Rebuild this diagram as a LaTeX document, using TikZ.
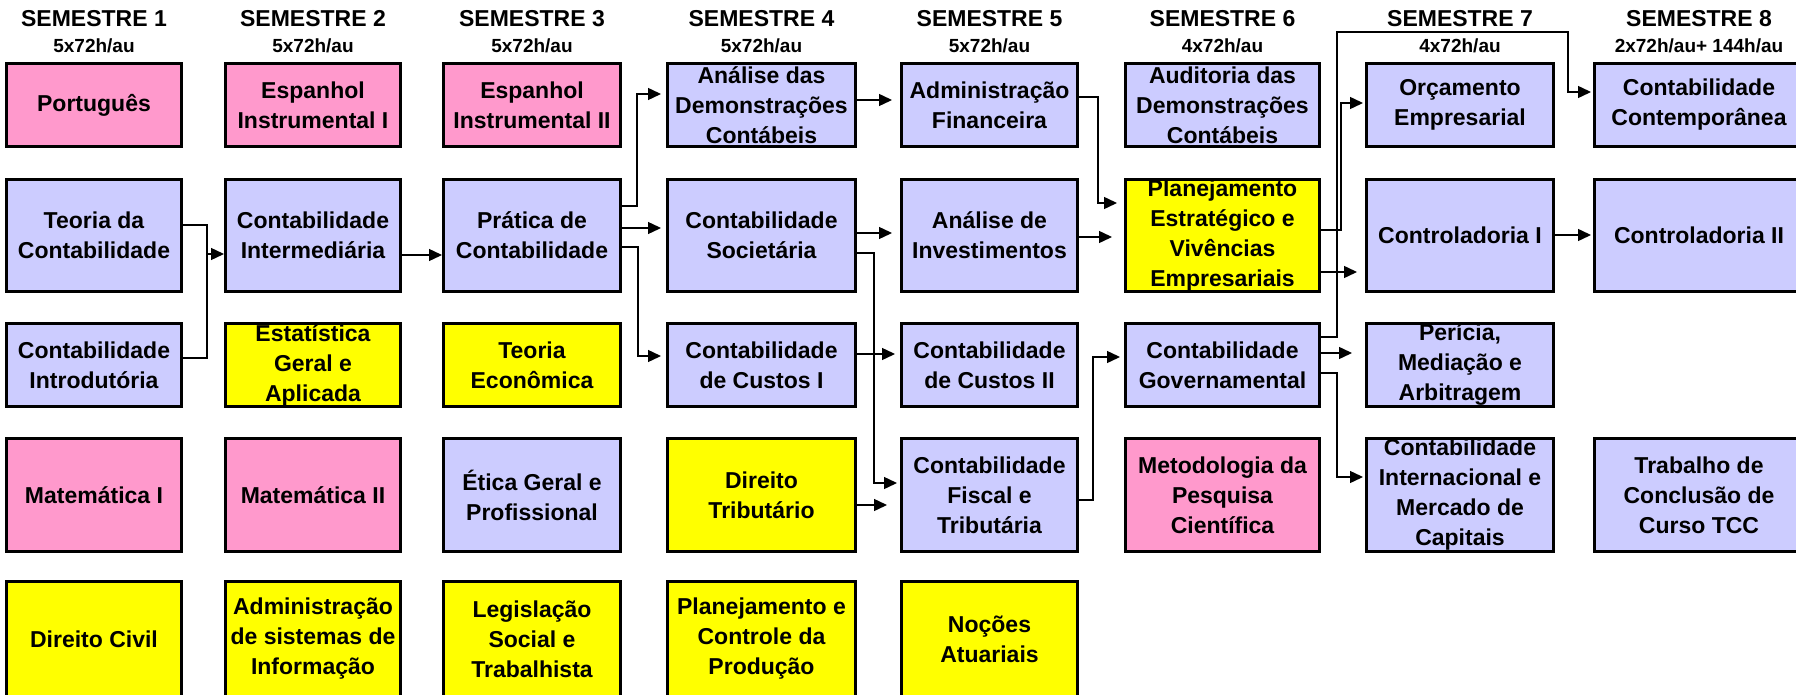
\documentclass[tikz,border=0pt]{standalone}
\usepackage{fontspec}
\setmainfont{Liberation Sans}
\usetikzlibrary{arrows.meta}
\definecolor{rosa}{HTML}{FF99CC}
\definecolor{lilas}{HTML}{CCCCFF}
\definecolor{amarelo}{HTML}{FFFF00}
\tikzset{
  materia/.style={draw, line width=3pt, inner sep=0pt, align=center, text=black,
    font=\fontsize{23}{30}\selectfont\bfseries},
  col1/.style={minimum width=175pt}, col2/.style={minimum width=175pt},
  col3/.style={minimum width=177pt}, col4/.style={minimum width=188pt},
  col5/.style={minimum width=176pt}, col6/.style={minimum width=194pt},
  col7/.style={minimum width=187pt}, col8/.style={minimum width=209pt},
  lin1/.style={minimum height=83pt}, lin2/.style={minimum height=112pt},
  lin3/.style={minimum height=83pt}, lin4/.style={minimum height=113pt},
  lin5/.style={minimum height=115pt},
  titulo/.style={anchor=base, font=\fontsize{23}{28}\selectfont\bfseries},
  carga/.style={anchor=base, font=\fontsize{19}{23}\selectfont\bfseries},
  fio/.style={line width=1.4pt},
  seta/.style={line width=1.4pt, -{Triangle[length=13pt,width=12pt]}}
}
\begin{document}
\begin{tikzpicture}[x=1pt,y=1pt]
		\useasboundingbox (0,0) rectangle (1796,-695);
		\foreach \n/\x/\h in {1/94/{5x72h/au}, 2/313/{5x72h/au}, 3/532/{5x72h/au}, 4/761.5/{5x72h/au},
		    5/989.5/{5x72h/au}, 6/1222.5/{4x72h/au}, 7/1460/{4x72h/au}, 8/1699/{2x72h/au+ 144h/au}}{
			\node[titulo] (sem\n) at (\x,-26.5) {SEMESTRE \n};
			\node[carga] (ch\n) at (\x,-53) {\h};
		}
		\node[materia, fill=rosa, col1, lin1] (port) at (94,-105) {Português};
		\node[materia, fill=rosa, col2, lin1] (esp1) at (313,-105) {Espanhol\\Instrumental I};
		\node[materia, fill=rosa, col3, lin1] (esp2) at (532,-105) {Espanhol\\Instrumental II};
		\node[materia, fill=lilas, col4, lin1] (adc) at (761.5,-105) {Análise das\\Demonstrações\\Contábeis};
		\node[materia, fill=lilas, col5, lin1] (adfin) at (989.5,-105) {Administração\\Financeira};
		\node[materia, fill=lilas, col6, lin1] (aud) at (1222.5,-105) {Auditoria das\\Demonstrações\\Contábeis};
		\node[materia, fill=lilas, col7, lin1] (orc) at (1460,-105) {Orçamento\\Empresarial};
		\node[materia, fill=lilas, col8, lin1] (contemp) at (1699,-105) {Contabilidade\\Contemporânea};

		\node[materia, fill=lilas, col1, lin2] (teo) at (94,-235.5) {Teoria da\\Contabilidade};
		\node[materia, fill=lilas, col2, lin2] (inter) at (313,-235.5) {Contabilidade\\Intermediária};
		\node[materia, fill=lilas, col3, lin2] (prat) at (532,-235.5) {Prática de\\Contabilidade};
		\node[materia, fill=lilas, col4, lin2] (soc) at (761.5,-235.5) {Contabilidade\\Societária};
		\node[materia, fill=lilas, col5, lin2] (inv) at (989.5,-235.5) {Análise de\\Investimentos};
		\node[materia, fill=amarelo, col6, lin2] (plan) at (1222.5,-235.5) {Planejamento\\Estratégico e\\Vivências\\Empresariais};
		\node[materia, fill=lilas, col7, lin2] (ctrl1) at (1460,-235.5) {Controladoria I};
		\node[materia, fill=lilas, col8, lin2] (ctrl2) at (1699,-235.5) {Controladoria II};

		\node[materia, fill=lilas, col1, lin3] (intro) at (94,-365) {Contabilidade\\Introdutória};
		\node[materia, fill=amarelo, col2, lin3] (estat) at (313,-365) {Estatística\\Geral e\\Aplicada};
		\node[materia, fill=amarelo, col3, lin3] (teco) at (532,-365) {Teoria\\Econômica};
		\node[materia, fill=lilas, col4, lin3] (cust1) at (761.5,-365) {Contabilidade\\de Custos I};
		\node[materia, fill=lilas, col5, lin3] (cust2) at (989.5,-365) {Contabilidade\\de Custos II};
		\node[materia, fill=lilas, col6, lin3] (gov) at (1222.5,-365) {Contabilidade\\Governamental};
		\node[materia, fill=lilas, col7, lin3] (peric) at (1460,-365) {Perícia,\\Mediação e\\Arbitragem};

		\node[materia, fill=rosa, col1, lin4] (mat1) at (94,-495) {Matemática I};
		\node[materia, fill=rosa, col2, lin4] (mat2) at (313,-495) {Matemática II};
		\node[materia, fill=lilas, col3, lin4] (etica) at (532,-495) {Ética Geral e\\Profissional};
		\node[materia, fill=amarelo, col4, lin4] (dtrib) at (761.5,-495) {Direito\\Tributário};
		\node[materia, fill=lilas, col5, lin4] (fiscal) at (989.5,-495) {Contabilidade\\Fiscal e\\Tributária};
		\node[materia, fill=rosa, col6, lin4] (metod) at (1222.5,-495) {Metodologia da\\Pesquisa\\Científica};
		\node[materia, fill=lilas, col7, lin4] (intl) at (1460,-495) {Contabilidade\\Internacional e\\Mercado de\\Capitais};
		\node[materia, fill=lilas, col8, lin4] (tcc) at (1699,-495) {Trabalho de\\Conclusão de\\Curso TCC};

		\node[materia, fill=amarelo, col1, lin5] (dciv) at (94,-639) {Direito Civil};
		\node[materia, fill=amarelo, col2, lin5] (asi) at (313,-639) {Administração\\de sistemas de\\Informação};
		\node[materia, fill=amarelo, col3, lin5] (legis) at (532,-639) {Legislação\\Social e\\Trabalhista};
		\node[materia, fill=amarelo, col4, lin5] (pcp) at (761.5,-639) {Planejamento e\\Controle da\\Produção};
		\node[materia, fill=amarelo, col5, lin5] (noc) at (989.5,-639) {Noções\\Atuariais};

		\coordinate (j1) at (207,-254);
		\coordinate (ctop) at (1568,-32);
		\draw[fio] ([yshift=10.5pt]teo.east) -- ++(24,0) |- ([yshift=7pt]intro.east);
		\draw[seta] (j1) -- (j1 -| inter.west);
		\draw[seta] ([yshift=-19.5pt]inter.east) -- ([yshift=-19.5pt]prat.west);
		\draw[seta] ([yshift=29.5pt]prat.east) -- ++(15,0) |- ([xshift=-5pt,yshift=11pt]adc.west);
		\draw[seta] ([yshift=7.5pt]prat.east) -- ([xshift=-5pt,yshift=7.5pt]soc.west);
		\draw[seta] ([yshift=-11.5pt]prat.east) -- ++(16,0) |- ([xshift=-5pt,yshift=9pt]cust1.west);
		\draw[seta] ([yshift=5pt]adc.east) -- ([xshift=-8pt,yshift=5pt]adfin.west);
		\draw[seta] ([yshift=8pt]adfin.east) -- ++(19,0) |- ([xshift=-7pt,yshift=32.5pt]plan.west);
		\draw[seta] ([yshift=2.5pt]soc.east) -- ([xshift=-8pt,yshift=2.5pt]inv.west);
		\draw[seta] ([yshift=-17.5pt]soc.east) -- ++(17,0) |- ([xshift=-3pt,yshift=12pt]fiscal.west);
		\draw[seta] ([yshift=-1.5pt]inv.east) -- ([xshift=-12pt,yshift=-1.5pt]plan.west);
		\draw[seta] ([yshift=11pt]cust1.east) -- ([xshift=-5pt,yshift=11pt]cust2.west);
		\draw[seta] ([yshift=-10pt]dtrib.east) -- ([xshift=-13pt,yshift=-10pt]fiscal.west);
		\draw[seta] ([yshift=-5pt]fiscal.east) -- ++(14,0) |- ([xshift=-4pt,yshift=8pt]gov.west);
		\draw[seta] ([yshift=5.5pt]plan.east) -- ++(20,0) |- ([xshift=-2pt,yshift=2pt]orc.west);
		\draw[seta] ([yshift=-36.5pt]plan.east) -- ([xshift=-8pt,yshift=-36.5pt]ctrl1.west);
		\draw[seta] ([yshift=28pt]gov.east) -- ++(16,0) |- (ctop) |- ([xshift=-2pt,yshift=13pt]contemp.west);
		\draw[seta] ([yshift=12pt]gov.east) -- ([xshift=-13pt,yshift=12pt]peric.west);
		\draw[seta] ([yshift=-8pt]gov.east) -- ++(16,0) |- ([xshift=-2pt,yshift=18pt]intl.west);
		\draw[seta] ([yshift=0.5pt]ctrl1.east) -- ([xshift=-2pt,yshift=0.5pt]ctrl2.west);
	\end{tikzpicture}
\end{document}
